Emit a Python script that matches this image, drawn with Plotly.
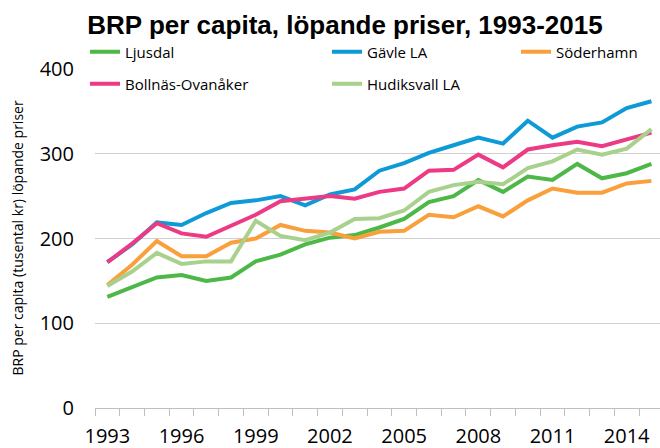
import plotly.graph_objects as go

years = list(range(1993, 2016))

ljusdal = [131, 142, 154, 157, 150, 154, 173, 181, 193, 201, 204, 213, 223, 243, 250, 269, 255, 273, 269, 288, 271, 277, 288]
gavle = [172, 193, 219, 216, 230, 242, 245, 250, 239, 252, 258, 280, 289, 301, 310, 319, 312, 339, 319, 332, 337, 354, 362]
soderhamn = [145, 169, 197, 179, 179, 195, 200, 216, 209, 207, 200, 208, 209, 228, 225, 238, 226, 245, 259, 254, 254, 265, 268]
bollnas = [172, 194, 218, 206, 202, 215, 228, 244, 247, 250, 247, 255, 259, 280, 281, 299, 284, 305, 310, 314, 309, 317, 325]
hudiksvall = [144, 161, 183, 170, 173, 173, 221, 203, 198, 207, 223, 224, 233, 255, 263, 267, 264, 283, 291, 305, 299, 306, 329]

series = [
    ("Ljusdal", ljusdal, "#4DB847", "legend"),
    ("Gävle LA", gavle, "#0E9AD7", "legend"),
    ("Söderhamn", soderhamn, "#F9A03C", "legend3"),
    ("Bollnäs-Ovanåker", bollnas, "#EC3A84", "legend2"),
    ("Hudiksvall LA", hudiksvall, "#A9D18E", "legend2"),
]

x_labels = [1993, 1996, 1999, 2002, 2005, 2008, 2011, 2014]
y_ticks = [0, 100, 200, 300, 400]

W, H = 660, 448
fig = go.Figure()
for name, vals, color, lg in series:
    fig.add_trace(go.Scatter(x=years, y=vals, mode="lines", name=name,
                             line=dict(color=color, width=4), legend=lg))

font_main = "Open Sans, Noto Sans, sans-serif"
COLW = 215.5
LX = 85
legend_common = dict(orientation="h", xref="container", yref="container",
                     xanchor="left", yanchor="middle",
                     entrywidth=COLW - 18.5, entrywidthmode="pixels",
                     font=dict(family=font_main, size=15, color="#000"),
                     bgcolor="rgba(0,0,0,0)", itemwidth=30, tracegroupgap=0)

fig.update_layout(
    width=W, height=H,
    margin=dict(l=95, r=0, t=69, b=40, autoexpand=False),
    paper_bgcolor="white", plot_bgcolor="white",
    title=dict(text="<b>BRP per capita, löpande priser, 1993-2015</b>",
               x=345 / W, xanchor="center", xref="container",
               y=1 - 25 / H, yanchor="middle", yref="container",
               font=dict(family="Liberation Sans, Arial, sans-serif", size=26, color="#000")),
    legend=dict(x=LX / W, y=1 - 52 / H, **legend_common),
    legend3=dict(x=(LX + 2 * COLW) / W, y=1 - 52 / H, **legend_common),
    legend2=dict(x=LX / W, y=1 - 84 / H, **legend_common),
    xaxis=dict(range=[1992.5, 1992.5 + 565 / 24.73],
               tickmode="array", tickvals=x_labels, ticktext=[str(v) for v in x_labels],
               ticks="", showgrid=False, zeroline=False,
               showline=True, linecolor="#BFBFBF", linewidth=1,
               ticklabelstandoff=10,
               tickfont=dict(family=font_main, size=20, color="#000"),
               minor=dict(tickmode="linear", tick0=1992.5, dtick=1, ticks="outside",
                          ticklen=7, tickcolor="#BFBFBF", tickwidth=1, showgrid=False)),
    yaxis=dict(range=[0, 400], tickmode="array", tickvals=y_ticks,
               showgrid=True, gridcolor="#D0D0D0", gridwidth=1,
               zeroline=False, showline=False, ticks="",
               ticklabelstandoff=20,
               tickfont=dict(family=font_main, size=20, color="#000")),
    annotations=[dict(text="BRP per capita (tusental kr) löpande priser",
                      xref="paper", yref="paper", x=(17 - 95) / 565, y=0.5,
                      xanchor="center", yanchor="middle", textangle=-90,
                      showarrow=False,
                      font=dict(family=font_main, size=14, color="#000"))],
)

fig.write_html("out.html", config={"displayModeBar": False},
               post_script="document.body.style.margin='0';document.body.style.padding='0';")
